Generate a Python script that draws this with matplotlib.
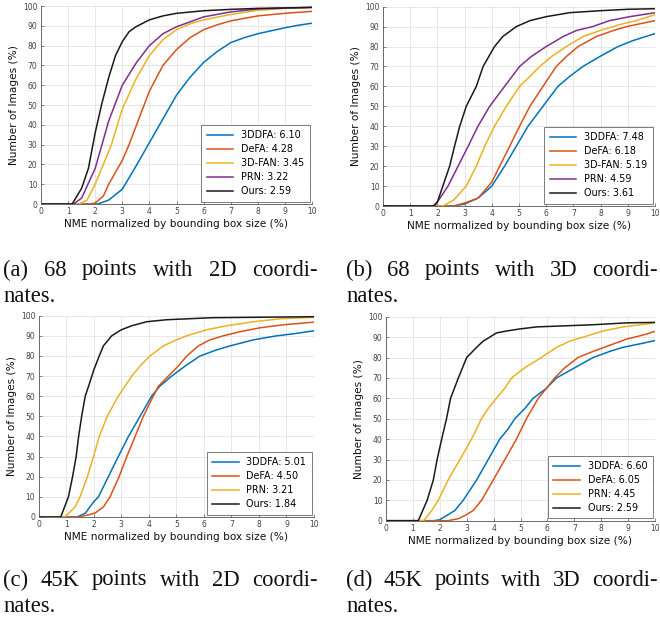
import numpy as np
import matplotlib
matplotlib.use("Agg")
import matplotlib.pyplot as plt

# ---------------- data ----------------
xticks = list(range(0, 11))
yticks = list(range(0, 101, 10))
xlabel = "NME normalized by bounding box size (%)"
ylabel = "Number of Images (%)"

# panel (a): 68 points, 2D
a_labels = ["3DDFA: 6.10", "DeFA: 4.28", "3D-FAN: 3.45", "PRN: 3.22", "Ours: 2.59"]
a_3ddfa_x = [0, 2.1, 2.5, 3.0, 3.5, 4.0, 4.5, 5.0, 5.5, 6.0, 6.5, 7.0, 7.5, 8.0, 8.5, 9.0, 9.5, 10]
a_3ddfa_y = [0, 0, 2, 7.5, 19, 31, 43, 55, 64, 71.5, 77, 81.5, 84, 86, 87.5, 89, 90.3, 91.3]
a_defa_x = [0, 1.8, 2.0, 2.3, 2.5, 2.75, 3.0, 3.25, 3.5, 3.75, 4.0, 4.5, 5.0, 5.5, 6.0, 6.5, 7.0, 8.0, 9.0, 10]
a_defa_y = [0, 0, 0.5, 4, 10, 16, 22, 30, 39, 48, 57, 70, 78, 84, 88, 90.5, 92.5, 95, 96.3, 97.3]
a_3dfan_x = [0, 1.4, 1.7, 2.0, 2.3, 2.6, 3.0, 3.5, 4.0, 4.5, 5.0, 5.5, 6.0, 7.0, 8.0, 9.0, 10]
a_3dfan_y = [0, 0, 2, 10, 20, 30, 48, 63, 75, 83, 88, 91, 93, 95.7, 97.8, 98.8, 99.3]
a_prn_x = [0, 1.2, 1.5, 2.0, 2.5, 3.0, 3.5, 4.0, 4.5, 5.0, 6.0, 7.0, 8.0, 10]
a_prn_y = [0, 0, 3, 18, 42, 60, 71, 80, 86, 89.5, 94.5, 97, 98.5, 99.3]
a_ours_x = [0, 1.15, 1.5, 1.75, 2.0, 2.25, 2.5, 2.75, 3.0, 3.25, 3.5, 4.0, 4.5, 5.0, 6.0, 7.0, 8.0, 10]
a_ours_y = [0, 0, 8, 18, 36, 51, 64, 75, 82, 87, 89.5, 93, 95, 96.3, 97.6, 98.3, 98.8, 99.3]

# panel (b): 68 points, 3D
b_labels = ["3DDFA: 7.48", "DeFA: 6.18", "3D-FAN: 5.19", "PRN: 4.59", "Ours: 3.61"]
b_3ddfa_x = [0, 2.6, 3.0, 3.5, 4.0, 4.47, 4.9, 5.33, 5.88, 6.43, 6.86, 7.35, 7.97, 8.64, 9.19, 10]
b_3ddfa_y = [0, 0, 1, 4, 10, 20, 30, 40, 50, 60, 65, 70, 75, 80, 83, 86.5]
b_defa_x = [0, 2.6, 3.0, 3.5, 4.0, 4.29, 4.66, 5.02, 5.4, 5.88, 6.37, 6.74, 7.17, 7.84, 8.46, 8.95, 10]
b_defa_y = [0, 0, 1.5, 4, 12, 20, 30, 40, 50, 60, 70, 75, 80, 85, 88, 90, 93]
b_3dfan_x = [0, 2.2, 2.6, 3.06, 3.43, 3.74, 4.1, 4.53, 5.02, 5.4, 5.76, 6.2, 6.74, 7.35, 7.97, 8.7, 9.3, 10]
b_3dfan_y = [0, 0, 3, 10, 20, 30, 40, 50, 60, 65, 70, 75, 80, 85, 88, 91, 93, 96]
b_prn_x = [0, 1.9, 2.39, 2.76, 3.13, 3.49, 3.92, 4.47, 5.02, 5.45, 6.0, 6.62, 7.1, 7.7, 8.33, 9.07, 10]
b_prn_y = [0, 0, 10, 20, 30, 40, 50, 60, 70, 75, 80, 85, 88, 90, 93, 95, 97]
b_ours_x = [0, 1.85, 2.0, 2.2, 2.45, 2.63, 2.82, 3.06, 3.43, 3.68, 4.1, 4.4, 4.9, 5.4, 6.0, 6.86, 8.0, 9.0, 10]
b_ours_y = [0, 0, 2, 10, 20, 30, 40, 50, 60, 70, 80, 85, 90, 93, 95, 97, 98, 98.7, 99]

# panel (c): 45K points, 2D
c_labels = ["3DDFA: 5.01", "DeFA: 4.50", "PRN: 3.21", "Ours: 1.84"]
c_3ddfa_x = [0, 1.4, 1.7, 2.0, 2.17, 2.53, 2.89, 3.26, 3.68, 4.1, 4.4, 4.83, 5.32, 5.86, 6.46, 6.95, 7.8, 8.64, 9.25, 10]
c_3ddfa_y = [0, 0, 2, 7.6, 10, 20, 30, 40, 50, 60, 65, 70, 75, 80, 83, 85, 88, 90, 91, 92.5]
c_defa_x = [0, 1.4, 1.8, 2.05, 2.35, 2.59, 2.92, 3.2, 3.5, 3.8, 4.16, 4.35, 4.71, 5.07, 5.38, 5.8, 6.22, 6.7, 7.3, 8.04, 8.9, 10]
c_defa_y = [0, 0, 1, 2, 5, 10, 20, 30, 40, 50, 60, 65, 70, 75, 80, 85, 88, 90, 92, 94, 95.5, 96.8]
c_prn_x = [0, 0.95, 1.32, 1.5, 1.77, 1.99, 2.2, 2.49, 2.89, 3.38, 3.68, 4.04, 4.53, 5.0, 5.37, 6.1, 6.83, 7.8, 8.8, 10]
c_prn_y = [0, 0, 5, 10, 20, 30, 40, 50, 60, 70, 75, 80, 85, 88, 90, 93, 95, 97, 98.5, 99.2]
c_ours_x = [0, 0.8, 1.08, 1.23, 1.36, 1.45, 1.56, 1.69, 1.86, 2.0, 2.17, 2.35, 2.65, 3.0, 3.38, 3.92, 4.65, 6.3, 10]
c_ours_y = [0, 0, 10, 20, 30, 40, 50, 60, 67, 73, 79, 85, 90, 93, 95, 97, 98, 99, 99.5]

# panel (d): 45K points, 3D
d_labels = ["3DDFA: 6.60", "DeFA: 6.05", "PRN: 4.45", "Ours: 2.59"]
d_3ddfa_x = [0, 1.8, 2.0, 2.19, 2.56, 2.87, 3.37, 3.8, 4.23, 4.54, 4.79, 5.16, 5.47, 5.97, 6.34, 7.02, 7.7, 8.32, 8.81, 9.55, 10]
d_3ddfa_y = [0, 0, 0.5, 2, 5, 10, 20, 30, 40, 45, 50, 55, 60, 65, 70, 75, 80, 83, 85, 87, 88.3]
d_defa_x = [0, 2.3, 2.7, 3.0, 3.24, 3.55, 3.99, 4.42, 4.85, 5.22, 5.66, 5.97, 6.27, 6.65, 7.14, 7.7, 8.32, 8.94, 9.55, 10]
d_defa_y = [0, 0, 1, 3, 5, 10, 20, 30, 40, 50, 60, 65, 70, 75, 80, 83, 86, 89, 91, 92.8]
d_prn_x = [0, 1.4, 1.7, 1.94, 2.31, 2.75, 3.18, 3.55, 3.8, 4.1, 4.42, 4.67, 5.16, 5.78, 6.34, 6.83, 7.33, 8.07, 8.81, 10]
d_prn_y = [0, 0, 5, 10, 20, 30, 40, 50, 55, 60, 65, 70, 75, 80, 85, 88, 90, 93, 95, 97]
d_ours_x = [0, 1.2, 1.53, 1.76, 1.9, 2.07, 2.25, 2.4, 2.69, 3.0, 3.37, 3.61, 3.86, 4.1, 4.48, 4.98, 5.6, 6.6, 7.6, 9.0, 10]
d_ours_y = [0, 0, 10, 20, 30, 40, 50, 60, 70, 80, 85, 88, 90, 92, 93, 94, 95, 95.5, 96, 97, 97.2]

captions = [
    ["(a) 68 points with 2D coordi-", "nates."],
    ["(b) 68 points with 3D coordi-", "nates."],
    ["(c) 45K points with 2D coordi-", "nates."],
    ["(d) 45K points with 3D coordi-", "nates."],
]

# ---------------- style ----------------
C_BLUE = "#0072BD"
C_ORANGE = "#D95319"
C_YELLOW = "#EDB120"
C_PURPLE = "#7E2F8E"
C_BLACK = "#1a1a1a"

W, H = 660, 622
fig = plt.figure(figsize=(W / 100, H / 100), dpi=100)

SANS = ["DejaVu Sans"]
SERIF = ["Liberation Serif", "DejaVu Serif"]


def px_axes(l, t, r, b):
    return fig.add_axes([l / W, 1 - b / H, (r - l) / W, (b - t) / H])


panels = [
    dict(box=(41, 6, 312, 204),
         series=[(a_3ddfa_x, a_3ddfa_y, C_BLUE), (a_defa_x, a_defa_y, C_ORANGE),
                 (a_3dfan_x, a_3dfan_y, C_YELLOW), (a_prn_x, a_prn_y, C_PURPLE),
                 (a_ours_x, a_ours_y, C_BLACK)],
         labels=a_labels),
    dict(box=(383, 6.7, 655, 206),
         series=[(b_3ddfa_x, b_3ddfa_y, C_BLUE), (b_defa_x, b_defa_y, C_ORANGE),
                 (b_3dfan_x, b_3dfan_y, C_YELLOW), (b_prn_x, b_prn_y, C_PURPLE),
                 (b_ours_x, b_ours_y, C_BLACK)],
         labels=b_labels),
    dict(box=(38.7, 315.7, 314, 517),
         series=[(c_3ddfa_x, c_3ddfa_y, C_BLUE), (c_defa_x, c_defa_y, C_ORANGE),
                 (c_prn_x, c_prn_y, C_YELLOW), (c_ours_x, c_ours_y, C_BLACK)],
         labels=c_labels),
    dict(box=(386, 316.7, 655, 520.7),
         series=[(d_3ddfa_x, d_3ddfa_y, C_BLUE), (d_defa_x, d_defa_y, C_ORANGE),
                 (d_prn_x, d_prn_y, C_YELLOW), (d_ours_x, d_ours_y, C_BLACK)],
         labels=d_labels),
]

for p in panels:
    ax = px_axes(*p["box"])
    for (xs, ys, col), lab in zip(p["series"], p["labels"]):
        ax.plot(xs, ys, color=col, lw=1.1, label=lab)
    ax.set_xlim(0, 10)
    ax.set_ylim(0, 100)
    ax.set_xticks(xticks)
    ax.set_yticks(yticks)
    ax.grid(True, color="#e3e3e3", lw=0.6)
    ax.set_axisbelow(True)
    for s in ["top", "right"]:
        ax.spines[s].set_visible(False)
    for s in ["left", "bottom"]:
        ax.spines[s].set_color("#555555")
        ax.spines[s].set_linewidth(0.6)
    ax.tick_params(direction="in", length=2, width=0.5, color="#555555",
                   labelsize=5.5, labelcolor="#444444", pad=2.5)
    for t in ax.get_xticklabels() + ax.get_yticklabels():
        t.set_fontfamily(SANS)
    ax.set_xlabel(xlabel, fontsize=7.6, family=SANS, color="#111111", labelpad=2)
    ax.set_ylabel(ylabel, fontsize=7.6, family=SANS, color="#111111", labelpad=3)
    leg = ax.legend(loc="lower right", prop={"family": SANS, "size": 6.9},
                    frameon=True, fancybox=False, edgecolor="#666666",
                    framealpha=1, handlelength=2.8, handletextpad=0.8,
                    borderaxespad=0.25, labelspacing=0.42, borderpad=0.55)
    leg.get_frame().set_linewidth(0.6)

# ---------------- justified captions ----------------
renderer = fig.canvas.get_renderer()
cap_pos = [(3, 318, 270, 297), (346, 658, 270, 297),
           (3, 318, 580, 607), (346, 658, 580, 606)]
FS_CAP = 16.3
for (x0, x1, y1, y2), (line1, line2) in zip(cap_pos, captions):
    words = line1.split(" ")
    txts = [fig.text(0, 1 - y1 / H, w, fontsize=FS_CAP, family=SERIF,
                     va="center", ha="left", color="#111111") for w in words]
    widths = [t.get_window_extent(renderer).width for t in txts]
    gap = (x1 - x0 - sum(widths)) / (len(words) - 1)
    x = x0
    for t, w in zip(txts, widths):
        t.set_x(x / W)
        x += w + gap
    fig.text(x0 / W, 1 - y2 / H, line2, fontsize=FS_CAP, family=SERIF,
             va="center", ha="left", color="#111111")

fig.savefig("out.png", dpi=100)
